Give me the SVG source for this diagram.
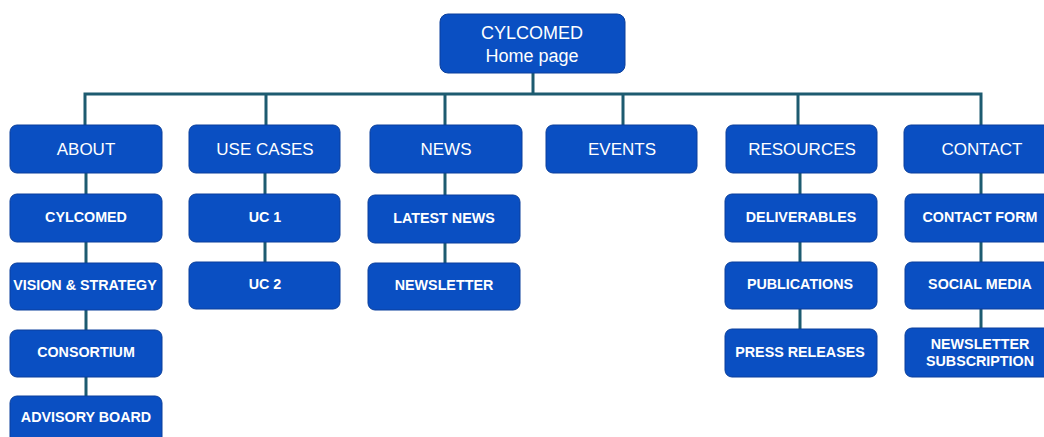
<svg xmlns="http://www.w3.org/2000/svg" width="1044" height="437" viewBox="0 0 1044 437">
<style>
.b{fill:#0a4fc2;stroke:#0a3f9c;stroke-width:1}
.t{fill:#fff;font-family:"Liberation Sans",Arial,sans-serif;font-size:17px;text-anchor:middle}
.s{fill:#fff;font-family:"Liberation Sans",Arial,sans-serif;font-size:14.3px;font-weight:bold;text-anchor:middle}
.c{fill:none;stroke:#1d5b70;stroke-width:3}
</style>
<rect width="1044" height="437" fill="#fff"/>
<g id="connectors">
<path class="c" d="M533 73V94M85 125V94H981V125M266 94V125M445 94V125M623 94V125M798 94V125"/>
<path class="c" d="M86 173V396M265 173V262M445 173V263M800 173V330M981 173V330"/>
</g>
<g id="home"><rect class="b" x="440" y="14" width="185" height="59" rx="8"/><text class="t" x="532" y="39" style="font-size:18px">CYLCOMED</text><text class="t" x="532" y="62" style="font-size:18px">Home page</text></g>
<g id="about"><rect class="b" x="10" y="125" width="152" height="48" rx="7"/><text class="t" x="86" y="155">ABOUT</text></g>
<g id="usecases"><rect class="b" x="189" y="125" width="151" height="48" rx="7"/><text class="t" x="265" y="155">USE CASES</text></g>
<g id="news"><rect class="b" x="370" y="125" width="152" height="48" rx="7"/><text class="t" x="446" y="155">NEWS</text></g>
<g id="events"><rect class="b" x="546" y="125" width="151" height="48" rx="7"/><text class="t" x="622" y="155">EVENTS</text></g>
<g id="resources"><rect class="b" x="726" y="125" width="151" height="48" rx="7"/><text class="t" x="802" y="155">RESOURCES</text></g>
<g id="contact"><rect class="b" x="904" y="125" width="152" height="48" rx="7"/><text class="t" x="982" y="155">CONTACT</text></g>
<g id="cylcomed"><rect class="b" x="10" y="194" width="152" height="48" rx="7"/><text class="s" x="86" y="222">CYLCOMED</text></g>
<g id="vision"><rect class="b" x="10" y="263" width="152" height="47" rx="7"/><text class="s" x="85" y="290">VISION &amp; STRATEGY</text></g>
<g id="consortium"><rect class="b" x="10" y="330" width="152" height="47" rx="7"/><text class="s" x="86" y="357">CONSORTIUM</text></g>
<g id="advisory"><rect class="b" x="10" y="396" width="152" height="48" rx="7"/><text class="s" x="86" y="422">ADVISORY BOARD</text></g>
<g id="uc1"><rect class="b" x="189" y="194" width="151" height="48" rx="7"/><text class="s" x="265" y="222">UC 1</text></g>
<g id="uc2"><rect class="b" x="189" y="262" width="151" height="47" rx="7"/><text class="s" x="265" y="289">UC 2</text></g>
<g id="latestnews"><rect class="b" x="368" y="195" width="152" height="48" rx="7"/><text class="s" x="444" y="223">LATEST NEWS</text></g>
<g id="newsletter"><rect class="b" x="368" y="263" width="152" height="47" rx="7"/><text class="s" x="444" y="290">NEWSLETTER</text></g>
<g id="deliverables"><rect class="b" x="725" y="194" width="152" height="48" rx="7"/><text class="s" x="801" y="222">DELIVERABLES</text></g>
<g id="publications"><rect class="b" x="725" y="262" width="152" height="47" rx="7"/><text class="s" x="800" y="289">PUBLICATIONS</text></g>
<g id="pressreleases"><rect class="b" x="725" y="329" width="152" height="48" rx="7"/><text class="s" x="800" y="357">PRESS RELEASES</text></g>
<g id="contactform"><rect class="b" x="905" y="194" width="151" height="48" rx="7"/><text class="s" x="980" y="222">CONTACT FORM</text></g>
<g id="socialmedia"><rect class="b" x="905" y="262" width="151" height="47" rx="7"/><text class="s" x="980" y="289">SOCIAL MEDIA</text></g>
<g id="subscription"><rect class="b" x="905" y="328" width="151" height="49" rx="7"/><text class="s" x="980" y="349">NEWSLETTER</text><text class="s" x="980" y="366">SUBSCRIPTION</text></g>
</svg>
